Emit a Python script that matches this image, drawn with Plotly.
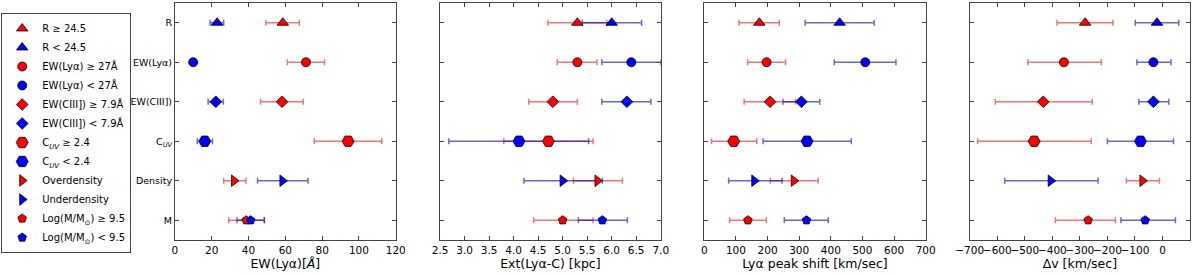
import plotly.graph_objects as go
from plotly.subplots import make_subplots

# ---------------- data ----------------
categories = ["R", "EW(Lyα)", "EW(CIII])", "C<sub><i>UV</i></sub>", "Density", "M"]

hi_labels = ["R ≥ 24.5", "EW(Lyα) ≥ 27Å", "EW(CIII]) ≥ 7.9Å",
             "C<sub><i>UV</i></sub> ≥ 2.4", "Overdensity", "Log(M/M<sub>⊙</sub>) ≥ 9.5"]
lo_labels = ["R < 24.5", "EW(Lyα) < 27Å", "EW(CIII]) < 7.9Å",
             "C<sub><i>UV</i></sub> < 2.4", "Underdensity", "Log(M/M<sub>⊙</sub>) < 9.5"]

# Panel 1: EW(Lya) [A]
ew_red = [58.6, 71.2, 58.2, 94.1, 32.1, 38.7]
ew_red_lo = [49.4, 61.1, 46.5, 75.7, 26.5, 29.2]
ew_red_hi = [67.6, 81.3, 69.7, 112.4, 38.6, 48.6]
ew_blue = [22.9, 9.9, 22.2, 16.2, 58.4, 41.1]
ew_blue_lo = [19.1, 8.9, 18.0, 12.1, 44.9, 33.7]
ew_blue_hi = [26.5, 10.9, 26.3, 20.4, 72.3, 48.6]

# Panel 2: Ext(Lya-C) [kpc]
ext_red = [5.30, 5.30, 4.80, 4.71, 5.71, 5.00]
ext_red_lo = [4.70, 4.89, 4.31, 3.80, 5.22, 4.41]
ext_red_hi = [5.90, 5.70, 5.30, 5.62, 6.22, 5.62]
ext_blue = [6.00, 6.40, 6.31, 4.11, 5.00, 5.81]
ext_blue_lo = [5.40, 5.80, 5.80, 2.68, 4.21, 5.32]
ext_blue_hi = [6.61, 7.00, 6.80, 5.53, 5.81, 6.32]

# Panel 3: Lya peak shift [km/sec]
shift_red = [174, 197, 208, 93, 283, 138]
shift_red_lo = [110, 137, 126, 23, 209, 80]
shift_red_hi = [237, 257, 288, 166, 360, 196]
shift_blue = [428, 509, 307, 325, 158, 323]
shift_blue_lo = [319, 411, 249, 186, 77, 253]
shift_blue_hi = [537, 606, 365, 465, 246, 392]

# Panel 4: Delta v [km/sec]
dv_red = [-281, -358, -433, -466, -73, -270]
dv_red_lo = [-383, -489, -607, -671, -131, -389]
dv_red_hi = [-180, -222, -255, -259, -11, -171]
dv_blue = [-20, -33, -33, -80, -406, -63]
dv_blue_lo = [-99, -93, -86, -200, -573, -151]
dv_blue_hi = [59, 31, 23, 40, -234, 47]

x_titles = ["EW(Lyα)[<i>Å</i>]", "Ext(Lyα-C) [kpc]", "Lyα peak shift [km/sec]", "Δv [km/sec]"]

# ---------------- styles ----------------
symbols = ["triangle-up", "circle", "diamond", "hexagon2", "triangle-right", "pentagon"]
sizes = [10, 9, 9, 12, 10, 9]
RED = "#ff0000"
BLUE = "#0000ff"
RED_ERR = "rgba(235,0,0,0.55)"
BLUE_ERR = "rgba(0,0,200,0.6)"
FONT = "DejaVu Sans"

panels = [
    (ew_red, ew_red_lo, ew_red_hi, ew_blue, ew_blue_lo, ew_blue_hi),
    (ext_red, ext_red_lo, ext_red_hi, ext_blue, ext_blue_lo, ext_blue_hi),
    (shift_red, shift_red_lo, shift_red_hi, shift_blue, shift_blue_lo, shift_blue_hi),
    (dv_red, dv_red_lo, dv_red_hi, dv_blue, dv_blue_lo, dv_blue_hi),
]

fig = make_subplots(rows=1, cols=4, shared_yaxes=True)

# error bars first (drawn beneath every marker)
for p, (rv, rlo, rhi, bv, blo, bhi) in enumerate(panels):
    for vals, lo, hi, ecol in ((rv, rlo, rhi, RED_ERR), (bv, blo, bhi, BLUE_ERR)):
        for i, cat in enumerate(categories):
            fig.add_trace(go.Scatter(
                x=[vals[i]], y=[cat], mode="markers",
                marker=dict(size=1, color="rgba(0,0,0,0)"),
                error_x=dict(type="data", symmetric=False,
                             array=[hi[i] - vals[i]], arrayminus=[vals[i] - lo[i]],
                             color=ecol, thickness=1.5, width=3),
                showlegend=False, hoverinfo="skip"), row=1, col=p + 1)

# markers in legend order
for i, cat in enumerate(categories):
    for grp, (lab, col) in enumerate(((hi_labels[i], RED), (lo_labels[i], BLUE))):
        for p, data in enumerate(panels):
            vals = data[0] if grp == 0 else data[3]
            fig.add_trace(go.Scatter(
                x=[vals[i]], y=[cat], mode="markers", name=lab,
                legendgroup=f"{i}-{grp}", showlegend=(p == 0),
                marker=dict(symbol=symbols[i], size=sizes[i], color=col,
                            line=dict(color="#200000" if grp == 0 else "#000020", width=0.8))),
                row=1, col=p + 1)

domains = [[0.1458, 0.3298], [0.3667, 0.5506], [0.5869, 0.7714], [0.8081, 0.9917]]
ranges = [[0, 120], [2.5, 7.0], [0, 700], [-700, 100]]
dticks = [20, 0.5, 100, 100]
formats = ["d", ".1f", "d", "d"]

axis_common = dict(showline=True, linecolor="#444", linewidth=1, mirror="ticks",
                   ticks="inside", ticklen=4, tickcolor="#444", showgrid=False,
                   zeroline=False)

for p in range(4):
    key = "xaxis" if p == 0 else f"xaxis{p + 1}"
    fig.layout[key].update(domain=domains[p], range=ranges[p], dtick=dticks[p],
                           tick0=ranges[p][0], tickformat=formats[p], tickangle=0,
                           tickfont=dict(family=FONT, size=10.5, color="black"),
                           title=dict(text=x_titles[p], font=dict(family=FONT, size=12.5, color="black"),
                                      standoff=1),
                           **axis_common)
    ykey = "yaxis" if p == 0 else f"yaxis{p + 1}"
    fig.layout[ykey].update(type="category", categoryorder="array",
                            categoryarray=list(reversed(categories)), range=[-0.5, 5.5],
                            showticklabels=(p == 0),
                            tickfont=dict(family=FONT, size=9.5, color="black"),
                            **axis_common)

fig.update_layout(
    width=1200, height=275,
    margin=dict(l=0, r=0, t=3, b=35, autoexpand=False),
    paper_bgcolor="white", plot_bgcolor="white",
    font=dict(family=FONT, size=10, color="black"),
    legend=dict(x=0.001, y=1 - 13 / 275, xanchor="left", yanchor="top",
                xref="paper", yref="container", maxheight=270,
                bordercolor="#444", borderwidth=1, bgcolor="white",
                font=dict(family=FONT, size=10, color="black"),
                itemsizing="trace", itemwidth=30, tracegroupgap=0),
)

fig.write_html("out.html", config={"displayModeBar": False},
               post_script="document.body.style.margin='0px';document.body.style.overflow='hidden';")
